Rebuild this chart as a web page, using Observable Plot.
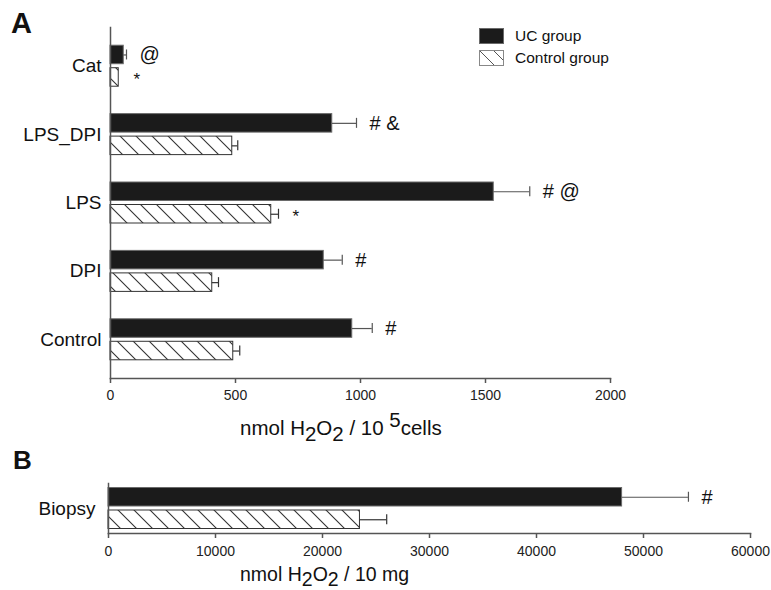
<!DOCTYPE html>
<html><head><meta charset="utf-8">
<script src="https://cdn.jsdelivr.net/npm/d3@7"></script>
<script src="https://cdn.jsdelivr.net/npm/@observablehq/plot@0.6"></script>
<style>
body{margin:0;background:#fff;font-family:"Liberation Sans",Arial,sans-serif;color:#111}
#wrap{position:relative;width:771px;height:590px;overflow:hidden;background:#fff}
.abs{position:absolute;white-space:nowrap;line-height:1}
.panel{position:absolute;left:0}
.lab{font-weight:bold}
.abs.ttl{font-size:20.5px;color:#111;line-height:1.5}
.ttl .sb{font-size:100%;vertical-align:-0.26em}
.ttl .sp{font-size:100%;vertical-align:0.4em}
.leg{font-size:15.5px;color:#111;display:flex;align-items:center;height:17px}
.leg svg{margin-right:11px}
</style></head><body><div id="wrap"></div>
<script>
// ---------- data ----------
const groups = ["UC group", "Control group"];

const cellCategories = ["Cat", "LPS_DPI", "LPS", "DPI", "Control"];
const cellUC        = [53, 887, 1533, 853, 967];
const cellUCErr     = [11, 97, 144, 74, 80];
const cellCtrl      = [33, 487, 643, 407, 491];
const cellCtrlErr   = [3, 22, 29, 25, 26];
const cellUCNotes   = ["@", "# &", "# @", "#", "#"];
const cellCtrlNotes = ["*", "", "*", "", ""];
const cellTicks     = [0, 500, 1000, 1500, 2000];

const biopsyCategories = ["Biopsy"];
const biopsyUC        = [48000];
const biopsyUCErr     = [6200];
const biopsyCtrl      = [23500];
const biopsyCtrlErr   = [2500];
const biopsyUCNotes   = ["#"];
const biopsyCtrlNotes = [""];
const biopsyTicks     = [0, 10000, 20000, 30000, 40000, 50000, 60000];

// ---------- drawing ----------
const wrap = document.getElementById("wrap");

function panel(cfg) {
  const {cats, uc, ucErr, ctrl, ctrlErr, ucNotes, ctrlNotes, ticks,
         height, mt, mb, ml, mr, padOuter, labelPad, tickPad, patId} = cfg;
  const rows = cats.flatMap((c, i) => [
    {cat: c, group: groups[0], v: uc[i], e: ucErr[i], note: ucNotes[i]},
    {cat: c, group: groups[1], v: ctrl[i], e: ctrlErr[i], note: ctrlNotes[i]}
  ]);
  const ucRows = rows.filter(d => d.group === groups[0]);
  const ctRows = rows.filter(d => d.group === groups[1]);
  const n = cats.length;
  const bw = (height - mt - mb) / (n + 2 * padOuter);
  const half = bw / 2, barH = 18.5, gap = 4, cap = 10;
  const ucC = -(gap / 2 + barH / 2), ctC = gap / 2 + barH / 2;
  const errMarks = (data, c, color) => [
    Plot.ruleY(data.filter(d => d.e > 4), {y: "cat", x1: "v", x2: d => d.v + d.e, dy: c, stroke: color, strokeWidth: 1.2}),
    Plot.tickX(data.filter(d => d.e > 4), {y: "cat", x: d => d.v + d.e, insetTop: half + c - cap / 2, insetBottom: half - c - cap / 2, stroke: color, strokeWidth: 1.2})
  ];
  const svg = Plot.plot({
    width: 771, height,
    marginTop: mt, marginBottom: mb, marginLeft: ml, marginRight: mr,
    style: {fontFamily: "'Liberation Sans', Arial, sans-serif", color: "#222", background: "transparent"},
    x: {domain: [ticks[0], ticks[ticks.length - 1]], ticks, round: false},
    y: {domain: cats, paddingInner: 0, paddingOuter: padOuter, round: false},
    marks: [
      Plot.barX(ucRows, {y: "cat", x: "v", fill: "#1b1b1b", stroke: "#6a6a6a", strokeWidth: 1, insetTop: half - gap / 2 - barH, insetBottom: half + gap / 2}),
      Plot.barX(ctRows, {y: "cat", x: "v", fill: `url(#${patId})`, stroke: "#333", strokeWidth: 1, insetTop: half + gap / 2, insetBottom: half - gap / 2 - barH}),
      ...errMarks(ucRows, ucC, "#555"),
      ...errMarks(ctRows, ctC, "#333"),
      Plot.text(ucRows, {y: "cat", x: d => d.v + d.e, text: "note", dx: 13, dy: ucC, textAnchor: "start", fontSize: 20, fill: "#111"}),
      Plot.text(ctRows, {y: "cat", x: d => d.v + d.e, text: "note", dx: 14, dy: ctC + 2, textAnchor: "start", fontSize: 17, fill: "#111"}),
      Plot.frame({anchor: "left", stroke: "#555", strokeWidth: 1.5}),
      Plot.frame({anchor: "bottom", stroke: "#555", strokeWidth: 1.5}),
      Plot.axisX({ticks, tickSize: 5, tickPadding: tickPad, fontSize: 14, label: null, stroke: "#555", strokeWidth: 1.5, fill: "#222", tickFormat: d => String(d)}),
      Plot.axisY({tickSize: 0, tickPadding: labelPad, fontSize: 19, label: null, fill: "#111"})
    ]
  });
  const defs = d3.select(svg).insert("defs", ":first-child");
  const p = defs.append("pattern").attr("id", patId).attr("patternUnits", "userSpaceOnUse")
    .attr("width", 16).attr("height", 16);
  p.append("rect").attr("width", 16).attr("height", 16).attr("fill", "#fff");
  p.append("path").attr("d", "M0,0L16,16M-4,12L4,20M12,-4L20,4")
    .attr("stroke", "#333").attr("stroke-width", 1.1);
  return svg;
}

const svgA = panel({
  cats: cellCategories, uc: cellUC, ucErr: cellUCErr, ctrl: cellCtrl, ctrlErr: cellCtrlErr,
  ucNotes: cellUCNotes, ctrlNotes: cellCtrlNotes, ticks: cellTicks,
  height: 410, mt: 27, mb: 32, ml: 110, mr: 161, padOuter: 0.066, labelPad: 9, tickPad: 7, patId: "hatchA"
});
svgA.classList.add("panel"); svgA.style.top = "0px";
wrap.appendChild(svgA);

const svgB = panel({
  cats: biopsyCategories, uc: biopsyUC, ucErr: biopsyUCErr, ctrl: biopsyCtrl, ctrlErr: biopsyCtrlErr,
  ucNotes: biopsyUCNotes, ctrlNotes: biopsyCtrlNotes, ticks: biopsyTicks,
  height: 130, mt: 43, mb: 37, ml: 108, mr: 21, padOuter: 0, labelPad: 13, tickPad: 8, patId: "hatchB"
});
svgB.classList.add("panel"); svgB.style.top = "440px";
wrap.appendChild(svgB);

function addHTML(html) { wrap.insertAdjacentHTML("beforeend", html); }
addHTML(`<div class="abs lab" style="left:11px;top:9px;font-size:29px">A</div>`);
addHTML(`<div class="abs lab" style="left:13px;top:447px;font-size:26px">B</div>`);
addHTML(`<div class="abs ttl" style="left:240px;top:405px">nmol H<span class="sb">2</span>O<span class="sb">2</span> / 10 <span class="sp">5</span>cells</div>`);
addHTML(`<div class="abs ttl" style="left:240px;top:560px;font-size:19.5px">nmol H<span class="sb">2</span>O<span class="sb">2</span> / 10 mg</div>`);
addHTML(`<div class="abs" style="left:479px;top:27px">
  <div class="leg"><svg width="25" height="16"><rect x="0.5" y="0.5" width="24" height="15" fill="#1b1b1b" stroke="#6a6a6a"/></svg>${groups[0]}</div>
  <div class="leg" style="margin-top:5px"><svg width="25" height="16"><defs><pattern id="hatchL" patternUnits="userSpaceOnUse" width="14" height="14"><rect width="14" height="14" fill="#fff"/><path d="M0,0L14,14M-4,10L4,18M10,-4L18,4" stroke="#555" stroke-width="1"/></pattern></defs><rect x="0.5" y="0.5" width="24" height="15" fill="url(#hatchL)" stroke="#888"/></svg>${groups[1]}</div>
</div>`);
</script></body></html>
